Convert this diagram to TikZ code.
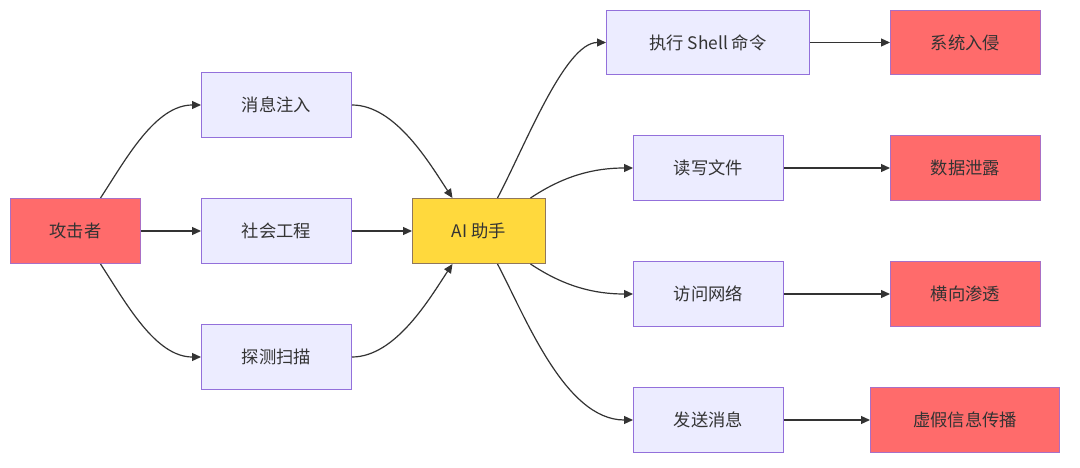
\documentclass[tikz,border=0pt]{standalone}
\usepackage{fontspec}
\setmainfont{Noto Sans CJK SC}
\usetikzlibrary{arrows.meta,calc}
\definecolor{lav}{HTML}{ECECFF}
\definecolor{lavb}{HTML}{9370DB}
\definecolor{redf}{HTML}{FF6B6B}
\definecolor{yelf}{HTML}{FFD93D}
\definecolor{ink}{HTML}{333333}
\tikzset{
  box/.style={draw=lavb, line width=1pt, fill=lav, text=ink, font=\fontsize{17.3}{20}\selectfont, inner sep=0pt, anchor=north west},
  redbox/.style={box, fill=redf, draw=lavb!80!redf},
  yelbox/.style={box, fill=yelf, draw=lavb!45!yelf!70!black},
  link/.style={draw=ink, line width=1.2pt, -{Triangle[length=9pt,width=8pt]}},
}
\newcommand{\bx}[6]{\node[#1, minimum width=#4pt, minimum height=#5pt] (#2) at (#3) {#6};}
\begin{document}
\begin{tikzpicture}[x=1pt,y=-1pt]
\useasboundingbox (0,0) rectangle (1080,468);
\fill[white] (0,0) rectangle (1080,468);
\bx{redbox}{atk}{10,198}{130}{65}{攻击者}
\bx{box}{msg}{201,72}{150}{65}{消息注入}
\bx{box}{soc}{201,198}{150}{65}{社会工程}
\bx{box}{scan}{201,324}{150}{65}{探测扫描}
\bx{yelbox}{ai}{412,198}{133}{65}{AI 助手}
\bx{box}{sh}{606,10}{203}{64}{执行 Shell 命令}
\bx{box}{rw}{633,135}{150}{65}{读写文件}
\bx{box}{net}{633,261}{150}{65}{访问网络}
\bx{box}{snd}{633,387}{150}{65}{发送消息}
\bx{redbox}{sys}{890,10}{150}{64}{系统入侵}
\bx{redbox}{leak}{890,135}{150}{65}{数据泄露}
\bx{redbox}{lat}{890,261}{150}{65}{横向渗透}
\bx{redbox}{fake}{870,387}{189}{65}{虚假信息传播}

% attacker -> layer 1
\draw[link] ([xshift=25pt]atk.north) .. controls +(25,-38) and +(-46,0) .. (msg.west);
\draw[link] (atk.east) -- (soc.west);
\draw[link] ([xshift=25pt]atk.south) .. controls +(25,38) and +(-46,0) .. (scan.west);
% layer 1 -> AI
\draw[link] (msg.east) .. controls +(44,0) and +(-22,-33) .. ([xshift=-26.5pt]ai.north);
\draw[link] (soc.east) -- (ai.west);
\draw[link] (scan.east) .. controls +(44,0) and +(-22,33) .. ([xshift=-26.5pt]ai.south);
% AI -> actions
\draw[link] ([xshift=18.5pt]ai.north) .. controls +(28,-53) and +(-41,0) .. (sh.west);
\draw[link] ([xshift=51.5pt]ai.north) .. controls +(30,-20) and +(-43,0) .. (rw.west);
\draw[link] ([xshift=51.5pt]ai.south) .. controls +(30,20) and +(-43,0) .. (net.west);
\draw[link] ([xshift=18.5pt]ai.south) .. controls +(28,53) and +(-68,0) .. (snd.west);
% actions -> outcomes
\draw[link] (sh.east) -- (sys.west);
\draw[link] (rw.east) -- (leak.west);
\draw[link] (net.east) -- (lat.west);
\draw[link] (snd.east) -- (fake.west);
\end{tikzpicture}
\end{document}
